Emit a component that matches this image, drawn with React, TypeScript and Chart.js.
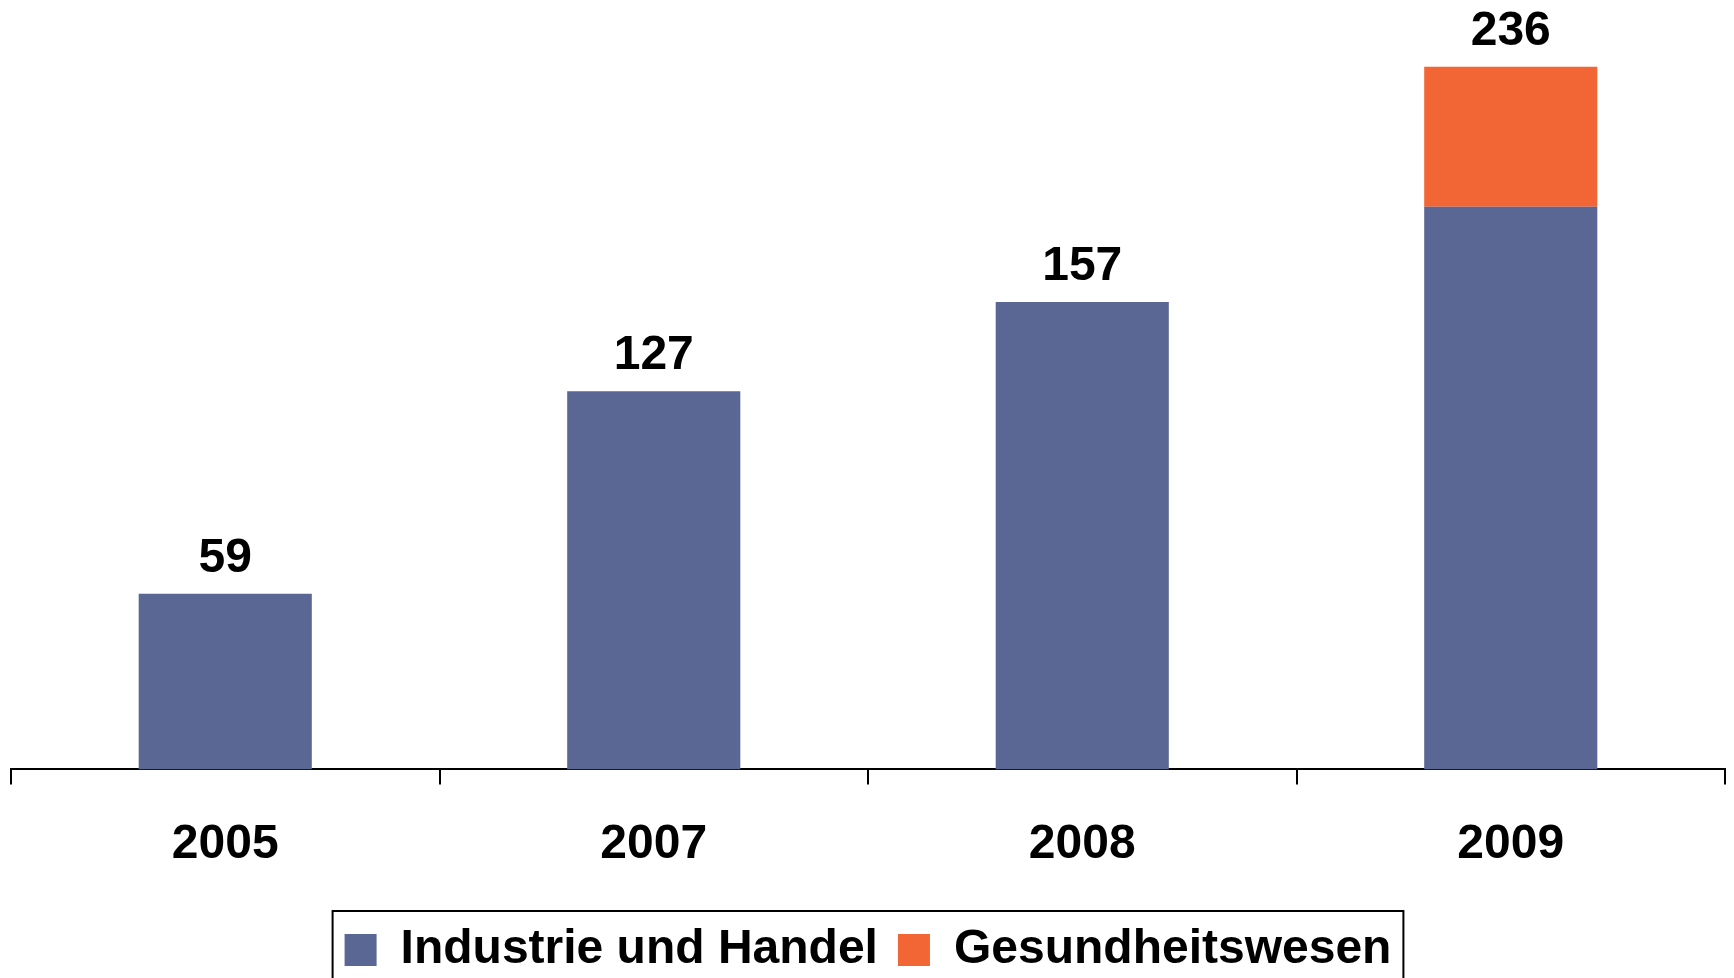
import React, { useEffect, useRef } from "react";
import { Chart, registerables } from "chart.js";

Chart.register(...registerables);

const categories = ["2005", "2007", "2008", "2009"];
const industrieUndHandel = [59, 127, 157, 189];
const gesundheitswesen = [null, null, null, 47];
const totals = [59, 127, 157, 236];
const seriesNames = ["Industrie und Handel", "Gesundheitswesen"];

const BLUE = "#5A6694";
const ORANGE = "#F26534";
const FONT = "'Liberation Sans', Arial, Helvetica, sans-serif";

const W = 1734;
const H = 984;

const labelsPlugin = {
  id: "totalLabels",
  afterDatasetsDraw(chart: any) {
    const { ctx } = chart;
    const meta = chart.getDatasetMeta(0);
    const y = chart.scales.y;
    ctx.save();
    ctx.font = `bold 48px ${FONT}`;
    ctx.fillStyle = "#000";
    ctx.textAlign = "center";
    ctx.textBaseline = "alphabetic";
    totals.forEach((t, i) => {
      const el = meta.data[i];
      if (!el) return;
      ctx.fillText(String(t), el.x, y.getPixelForValue(t) - 22);
    });
    ctx.restore();
  },
};

const legendBorderPlugin = {
  id: "legendBorder",
  afterDraw(chart: any) {
    const lg = chart.legend;
    if (!lg || !lg.legendHitBoxes || !lg.legendHitBoxes.length) return;
    const hb = lg.legendHitBoxes;
    const first = hb[0];
    const last = hb[hb.length - 1];
    const mid = first.top + first.height / 2;
    const { ctx } = chart;
    ctx.save();
    ctx.strokeStyle = "#000";
    ctx.lineWidth = 2;
    const left = first.left - 12;
    const right = last.left + last.width + 12;
    ctx.strokeRect(left, mid - 39, right - left, 78);
    ctx.restore();
  },
};

export default function App() {
  const ref = useRef<HTMLCanvasElement | null>(null);

  useEffect(() => {
    if (!ref.current) return;
    const chart = new Chart(ref.current, {
      type: "bar",
      data: {
        labels: categories,
        datasets: [
          {
            label: seriesNames[0],
            data: industrieUndHandel,
            backgroundColor: BLUE,
            borderWidth: 0,
          },
          {
            label: seriesNames[1],
            data: gesundheitswesen as any,
            backgroundColor: ORANGE,
            borderWidth: 0,
          },
        ],
      },
      options: {
        animation: false,
        responsive: false,
        devicePixelRatio: 1,
        layout: { padding: { top: 25, left: 11, right: 9, bottom: 0 } },
        datasets: {
          bar: { categoryPercentage: 1, barPercentage: 0.404 },
        },
        scales: {
          x: {
            stacked: true,
            grid: {
              display: true,
              drawOnChartArea: false,
              drawTicks: true,
              tickLength: 15,
              color: "#000",
              lineWidth: 2,
              offset: true,
            },
            border: { display: true, color: "#000", width: 2 },
            ticks: {
              color: "#000",
              padding: 32,
              font: { family: FONT, size: 48, weight: "bold" },
            },
          },
          y: {
            stacked: true,
            display: false,
            min: 0,
            max: 250,
          },
        },
        plugins: {
          tooltip: { enabled: false },
          legend: {
            display: true,
            position: "bottom",
            labels: {
              boxWidth: 32,
              boxHeight: 32,
              padding: 20,
              color: "#000",
              font: { family: FONT, size: 48, weight: "bold" },
            },
          },
        },
      },
      plugins: [labelsPlugin, legendBorderPlugin],
    });
    return () => chart.destroy();
  }, []);

  return (
    <div
      style={{
        position: "fixed",
        left: 0,
        top: 0,
        width: W,
        height: 978,
        overflow: "hidden",
        background: "#fff",
      }}
    >
      <canvas
        ref={ref}
        width={W}
        height={H}
        style={{ display: "block", width: W, height: H }}
      />
    </div>
  );
}
